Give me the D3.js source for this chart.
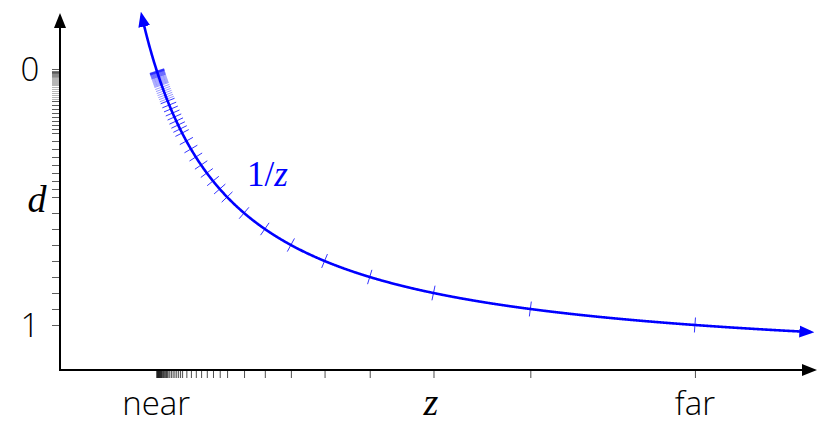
<!DOCTYPE html>
<html>
<head>
<meta charset="utf-8">
<script src="https://cdn.jsdelivr.net/npm/d3@7"></script>
<style>
  body { margin: 0; background: #fff; }
  svg { display: block; }
</style>
</head>
<body>
<div class="canvas"></div>
<script>
// near / far planes (z units) and the drawn stretch of the curve
const near = 1;
const far = 6.6;
const zCurve = [0.85, 7.8];

// depth ticks: a tiny float with a 3 bit mantissa
const mantissas = [0, 1, 2, 3, 4, 5, 6, 7];
const exponents = [1, 2, 3, 4, 5, 6, 7];
const yLabels = ['0', '1'];
const xLabels = ['near', 'far'];

const dTicks = [0, 1].concat(exponents.flatMap(e => mantissas.map(m => (1 + m / 8) * Math.pow(2, -e))));

const depth = z => (1 / near - 1 / z) / (1 / near - 1 / far);
const zOf = d => 1 / (1 / near - d * (1 / near - 1 / far));
const zTicks = dTicks.map(zOf);

const svg = d3.select('.canvas')
  .append('svg')
    .attr('width', 830)
    .attr('height', 429);

const x = d3.scaleLinear().domain([0, 7.9]).range([60, 820]);
const y = d3.scaleLinear().domain([0, 1]).range([69, 325]);

// arrow heads
const defs = svg.append('defs');
[['arrow-black', '#000'], ['arrow-blue', '#0000ff']].forEach(([id, col]) => {
  defs.append('marker')
    .attr('id', id)
    .attr('markerUnits', 'userSpaceOnUse')
    .attr('viewBox', '0 -7 15 14')
    .attr('markerWidth', 15)
    .attr('markerHeight', 14)
    .attr('refX', 11)
    .attr('refY', 0)
    .attr('orient', 'auto-start-reverse')
    .append('path')
      .attr('d', 'M0,-6L15,0L0,6Z')
      .attr('fill', col);
});

// tick groups
const yAxis = d3.axisLeft(y).tickValues(dTicks).tickSize(8).tickFormat('');
const xAxis = d3.axisBottom(x).tickValues(zTicks).tickSize(8).tickFormat('');

const yAxisGroup = svg.append('g')
  .attr('transform', `translate(${x(0)}, 0)`)
  .call(yAxis);
const xAxisGroup = svg.append('g')
  .attr('transform', `translate(0, 370)`)
  .call(xAxis);

yAxisGroup.select('.domain').remove();
yAxisGroup.selectAll('.tick line')
  .attr('stroke', '#333')
  .attr('stroke-width', 0.8)
  .attr('stroke-opacity', d => d < 0.125 && d > 0 ? 0.45 : 1);

xAxisGroup.select('.domain').remove();
xAxisGroup.selectAll('.tick line')
  .attr('stroke', '#222')
  .attr('stroke-width', 0.8);

// axis lines with arrows
svg.append('line')
  .attr('x1', x(0)).attr('y1', 371)
  .attr('x2', x(0)).attr('y2', 17)
  .attr('stroke', '#000').attr('stroke-width', 2)
  .attr('marker-end', 'url(#arrow-black)');
svg.append('line')
  .attr('x1', x(0) - 1).attr('y1', 370)
  .attr('x2', 813).attr('y2', 370)
  .attr('stroke', '#000').attr('stroke-width', 2)
  .attr('marker-end', 'url(#arrow-black)');

// the 1/z curve
const zs = d3.range(zCurve[0], zCurve[1], 0.005).concat([zCurve[1]]);
const line = d3.line()
  .x(z => x(z))
  .y(z => y(depth(z)))
  .curve(d3.curveMonotoneX);

svg.append('path')
  .datum(zs)
  .attr('d', line)
  .attr('fill', 'none')
  .attr('stroke', '#0000ff')
  .attr('stroke-width', 2.6)
  .attr('marker-start', 'url(#arrow-blue)')
  .attr('marker-end', 'url(#arrow-blue)');

// small ticks across the curve, normal to it
const kx = x(1) - x(0);
const ky = y(1) - y(0);
const half = 7.5;
svg.append('g')
  .selectAll('line')
  .data(dTicks.filter(d => d > 0))
  .enter()
  .append('line')
    .each(function(d) {
      const z = zOf(d);
      const px = x(z), py = y(d);
      const tx = kx, ty = ky / (z * z) / (1 / near - 1 / far);
      const len = Math.hypot(tx, ty);
      const nx = -ty / len, ny = tx / len;
      d3.select(this)
        .attr('x1', px - nx * half).attr('y1', py - ny * half)
        .attr('x2', px + nx * half).attr('y2', py + ny * half);
    })
    .attr('stroke', '#0000ff')
    .attr('stroke-width', 0.8)
    .attr('stroke-opacity', d => d < 0.125 ? 0.5 : 1);

// labels
const sans = '"Open Sans", "Noto Sans", sans-serif';
const serif = '"Liberation Serif", "DejaVu Serif", serif';

svg.selectAll('.ylab')
  .data(yLabels)
  .enter()
  .append('text')
    .attr('class', 'ylab')
    .attr('x', 30)
    .attr('y', d => y(+d) + 12)
    .attr('text-anchor', 'middle')
    .attr('font-family', sans)
    .attr('font-weight', 300)
    .attr('font-size', 33)
    .text(d => d);

svg.selectAll('.xlab')
  .data(xLabels)
  .enter()
  .append('text')
    .attr('class', 'xlab')
    .attr('x', d => x(d === 'near' ? near : far))
    .attr('y', 415)
    .attr('text-anchor', 'middle')
    .attr('font-family', sans)
    .attr('font-weight', 300)
    .attr('font-size', 33)
    .text(d => d);

svg.append('text')
  .attr('x', 37).attr('y', 212)
  .attr('text-anchor', 'middle')
  .attr('font-family', serif)
  .attr('font-style', 'italic')
  .attr('font-size', 38)
  .text('d');

svg.append('text')
  .attr('x', 431).attr('y', 415)
  .attr('text-anchor', 'middle')
  .attr('font-family', serif)
  .attr('font-style', 'italic')
  .attr('font-size', 38)
  .text('z');

const curveLabel = svg.append('text')
  .attr('x', 247).attr('y', 186)
  .attr('font-family', serif)
  .attr('font-size', 35)
  .attr('fill', '#0000ff');
curveLabel.append('tspan').text('1/');
curveLabel.append('tspan').attr('font-style', 'italic').text('z');
</script>
</body>
</html>
